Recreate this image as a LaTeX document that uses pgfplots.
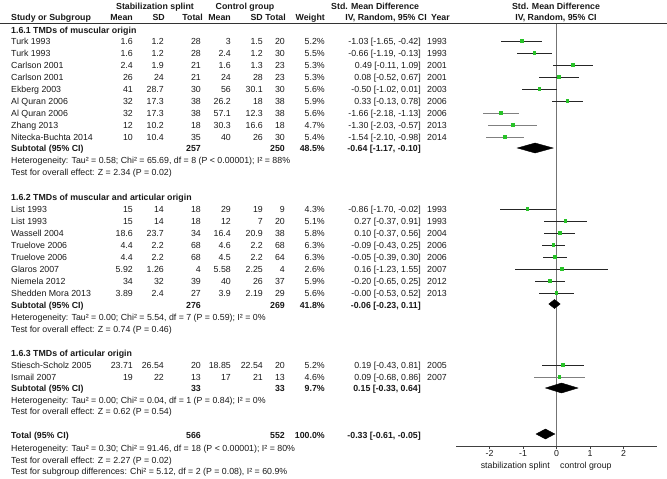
\documentclass[border=0pt]{standalone}
\usepackage{pgfplots}
\pgfplotsset{compat=1.18}
\usepackage{pgfplotstable}
\usepackage{fontspec}
\setmainfont{Liberation Sans}
\definecolor{mk}{RGB}{40,195,40}
\definecolor{tx}{RGB}{25,25,25}

% py = pixel row (from top), est, lo, hi
\pgfplotstableread{
py est lo hi
41 -1.03 -1.65 -0.42
53 -0.66 -1.19 -0.13
65 0.49 -0.11 1.09
77 0.08 -0.52 0.67
89 -0.50 -1.02 0.01
101 0.33 -0.13 0.78
209 -0.86 -1.70 -0.02
221 0.27 -0.37 0.91
233 0.10 -0.37 0.56
245 -0.09 -0.43 0.25
257 -0.05 -0.39 0.30
269 0.16 -1.23 1.55
281 -0.20 -0.65 0.25
293 -0.00 -0.53 0.52
365 0.19 -0.43 0.81
}\studiesA
\pgfplotstableread{
py est lo hi
113 -1.66 -2.18 -1.13
125 -1.30 -2.03 -0.57
137 -1.54 -2.10 -0.98
377 0.09 -0.68 0.86
}\studiesB

\newcommand\E[3]{\node[anchor=base east] at (#1,{-(#2+3.2)}) {#3};}
\newcommand\W[3]{\node[anchor=base west] at (#1,{-(#2+3.2)}) {#3};}
\newcommand\M[3]{\node[anchor=base] at (#1,{-(#2+3.2)}) {#3};}
\newcommand\St[9]{\W{11}{#1}{#2}\E{133}{#1}{#3}\E{164}{#1}{#4}\E{201}{#1}{#5}\E{231}{#1}{#6}\E{263}{#1}{#7}\E{285}{#1}{#8}\E{325}{#1}{#9}}
\newcommand\Ci[3]{\E{421}{#1}{#2}\E{447}{#1}{#3}}

\begin{document}
\begin{tikzpicture}[x=1pt,y=1pt,font=\fontsize{8.8pt}{10pt}\selectfont,every node/.style={inner sep=0pt,text=tx}]
\path[use as bounding box] (0,0) rectangle (667,-479);

\begin{axis}[at={(456pt,-446pt)}, anchor=south west, width=201pt, height=423pt, scale only axis,
  xmin=-3, xmax=3, ymin=-446, ymax=-23, clip=false,
  axis x line=bottom, axis y line=none,
  axis line style={-, black!75, line width=0.7pt},
  xtick={-2,-1,0,1,2}, xticklabels={-2,-1,0,1,2},
  tick align=outside, major tick length=3pt, tick style={black!75, line width=0.7pt},
  xticklabel style={font=\fontsize{8.8pt}{10pt}\selectfont, text=tx, inner sep=0pt, yshift=-1pt},
  ]
  % zero line
  \addplot[black!55, line width=0.7pt] coordinates {(0,-23) (0,-446)};
  % CIs
  \addplot[draw=none, mark=none, error bars/.cd, x dir=both, x explicit, error mark=none,
    error bar style={black!85, line width=0.8pt}]
    table[x=est, y expr=-\thisrow{py}, x error plus expr=\thisrow{hi}-\thisrow{est}, x error minus expr=\thisrow{est}-\thisrow{lo}] {\studiesA};
  \addplot[draw=none, mark=none, error bars/.cd, x dir=both, x explicit, error mark=none,
    error bar style={black!50, line width=0.8pt}]
    table[x=est, y expr=-\thisrow{py}, x error plus expr=\thisrow{hi}-\thisrow{est}, x error minus expr=\thisrow{est}-\thisrow{lo}] {\studiesB};
  \addplot[draw=none, mark=square*, mark size=1.2pt, mark options={fill=mk, draw=mk, line width=0pt}]
    table[x=est, y expr=-\thisrow{py}] {\studiesA};
  \addplot[draw=none, mark=square*, mark size=1.2pt, mark options={fill=mk, draw=mk, line width=0pt}]
    table[x=est, y expr=-\thisrow{py}] {\studiesB};
  % diamonds
  \addplot[fill=black, draw=black] coordinates {(-1.17,-148) (-0.64,-143) (-0.10,-148) (-0.64,-153)} -- cycle;
  \addplot[fill=black, draw=black] coordinates {(-0.23,-304) (-0.06,-299.5) (0.11,-304) (-0.06,-308.5)} -- cycle;
  \addplot[fill=black, draw=black] coordinates {(-0.33,-388) (0.15,-383) (0.64,-388) (0.15,-393)} -- cycle;
  \addplot[fill=black, draw=black] coordinates {(-0.61,-434) (-0.33,-429) (-0.05,-434) (-0.33,-439)} -- cycle;
\end{axis}

% header
\draw[black!80, line width=0.7pt] (0,-23) -- (667,-23);
\begin{scope}[every node/.append style={font=\fontsize{8.8pt}{10pt}\selectfont\bfseries}]
\M{155}{6}{Stabilization splint}
\M{245}{6}{Control group}
\W{331}{6}{Std. Mean Difference}
\M{556}{6}{Std. Mean Difference}
\W{11}{17}{Study or Subgroup}
\E{133}{17}{Mean}\E{165}{17}{SD}\E{203}{17}{Total}
\E{231}{17}{Mean}\E{263}{17}{SD}\E{286}{17}{Total}\E{325}{17}{Weight}
\E{427}{17}{IV, Random, 95\% CI}\W{431}{17}{Year}
\M{556}{17}{IV, Random, 95\% CI}
\W{11}{30}{1.6.1 TMDs of muscular origin}
\W{11}{197}{1.6.2 TMDs of muscular and articular origin}
\W{11}{353}{1.6.3 TMDs of articular origin}
\W{11}{148}{Subtotal (95\% CI)}\E{201}{148}{257}\E{285}{148}{250}\E{325}{148}{48.5\%}\E{421}{148}{-0.64 [-1.17, -0.10]}
\W{11}{305}{Subtotal (95\% CI)}\E{201}{305}{276}\E{285}{305}{269}\E{325}{305}{41.8\%}\E{421}{305}{-0.06 [-0.23, 0.11]}
\W{11}{388}{Subtotal (95\% CI)}\E{201}{388}{33}\E{285}{388}{33}\E{325}{388}{9.7\%}\E{421}{388}{0.15 [-0.33, 0.64]}
\W{11}{435}{Total (95\% CI)}\E{201}{435}{566}\E{285}{435}{552}\E{325}{435}{100.0\%}\E{421}{435}{-0.33 [-0.61, -0.05]}
\end{scope}

% group 1
\St{41}{Turk 1993}{1.6}{1.2}{28}{3}{1.5}{20}{5.2\%}\Ci{41}{-1.03 [-1.65, -0.42]}{1993}
\St{53}{Turk 1993}{1.6}{1.2}{28}{2.4}{1.2}{30}{5.5\%}\Ci{53}{-0.66 [-1.19, -0.13]}{1993}
\St{65}{Carlson 2001}{2.4}{1.9}{21}{1.6}{1.3}{23}{5.3\%}\Ci{65}{0.49 [-0.11, 1.09]}{2001}
\St{77}{Carlson 2001}{26}{24}{21}{24}{28}{23}{5.3\%}\Ci{77}{0.08 [-0.52, 0.67]}{2001}
\St{89}{Ekberg 2003}{41}{28.7}{30}{56}{30.1}{30}{5.6\%}\Ci{89}{-0.50 [-1.02, 0.01]}{2003}
\St{101}{Al Quran 2006}{32}{17.3}{38}{26.2}{18}{38}{5.9\%}\Ci{101}{0.33 [-0.13, 0.78]}{2006}
\St{113}{Al Quran 2006}{32}{17.3}{38}{57.1}{12.3}{38}{5.6\%}\Ci{113}{-1.66 [-2.18, -1.13]}{2006}
\St{125}{Zhang 2013}{12}{10.2}{18}{30.3}{16.6}{18}{4.7\%}\Ci{125}{-1.30 [-2.03, -0.57]}{2013}
\St{137}{Nitecka-Buchta 2014}{10}{10.4}{35}{40}{26}{30}{5.4\%}\Ci{137}{-1.54 [-2.10, -0.98]}{2014}
\W{11}{160}{Heterogeneity: Tau² = 0.58; Chi² = 65.69, df = 8 (P < 0.00001); I² = 88\%}
\W{11}{172}{Test for overall effect: Z = 2.34 (P = 0.02)}
% group 2
\St{209}{List 1993}{15}{14}{18}{29}{19}{9}{4.3\%}\Ci{209}{-0.86 [-1.70, -0.02]}{1993}
\St{221}{List 1993}{15}{14}{18}{12}{7}{20}{5.1\%}\Ci{221}{0.27 [-0.37, 0.91]}{1993}
\St{233}{Wassell 2004}{18.6}{23.7}{34}{16.4}{20.9}{38}{5.8\%}\Ci{233}{0.10 [-0.37, 0.56]}{2004}
\St{245}{Truelove 2006}{4.4}{2.2}{68}{4.6}{2.2}{68}{6.3\%}\Ci{245}{-0.09 [-0.43, 0.25]}{2006}
\St{257}{Truelove 2006}{4.4}{2.2}{68}{4.5}{2.2}{64}{6.3\%}\Ci{257}{-0.05 [-0.39, 0.30]}{2006}
\St{269}{Glaros 2007}{5.92}{1.26}{4}{5.58}{2.25}{4}{2.6\%}\Ci{269}{0.16 [-1.23, 1.55]}{2007}
\St{281}{Niemela 2012}{34}{32}{39}{40}{26}{37}{5.9\%}\Ci{281}{-0.20 [-0.65, 0.25]}{2012}
\St{293}{Shedden Mora 2013}{3.89}{2.4}{27}{3.9}{2.19}{29}{5.6\%}\Ci{293}{-0.00 [-0.53, 0.52]}{2013}
\W{11}{317}{Heterogeneity: Tau² = 0.00; Chi² = 5.54, df = 7 (P = 0.59); I² = 0\%}
\W{11}{329}{Test for overall effect: Z = 0.74 (P = 0.46)}
% group 3
\St{365}{Stiesch-Scholz 2005}{23.71}{26.54}{20}{18.85}{22.54}{20}{5.2\%}\Ci{365}{0.19 [-0.43, 0.81]}{2005}
\St{377}{Ismail 2007}{19}{22}{13}{17}{21}{13}{4.6\%}\Ci{377}{0.09 [-0.68, 0.86]}{2007}
\W{11}{400}{Heterogeneity: Tau² = 0.00; Chi² = 0.04, df = 1 (P = 0.84); I² = 0\%}
\W{11}{411}{Test for overall effect: Z = 0.62 (P = 0.54)}
% total
\W{11}{448}{Heterogeneity: Tau² = 0.30; Chi² = 91.46, df = 18 (P < 0.00001); I² = 80\%}
\W{11}{460}{Test for overall effect: Z = 2.27 (P = 0.02)}
\W{11}{471}{Test for subgroup differences: Chi² = 5.12, df = 2 (P = 0.08), I² = 60.9\%}
% axis side labels
\E{550}{465}{stabilization splint}
\W{560}{465}{control group}
\end{tikzpicture}
\end{document}
